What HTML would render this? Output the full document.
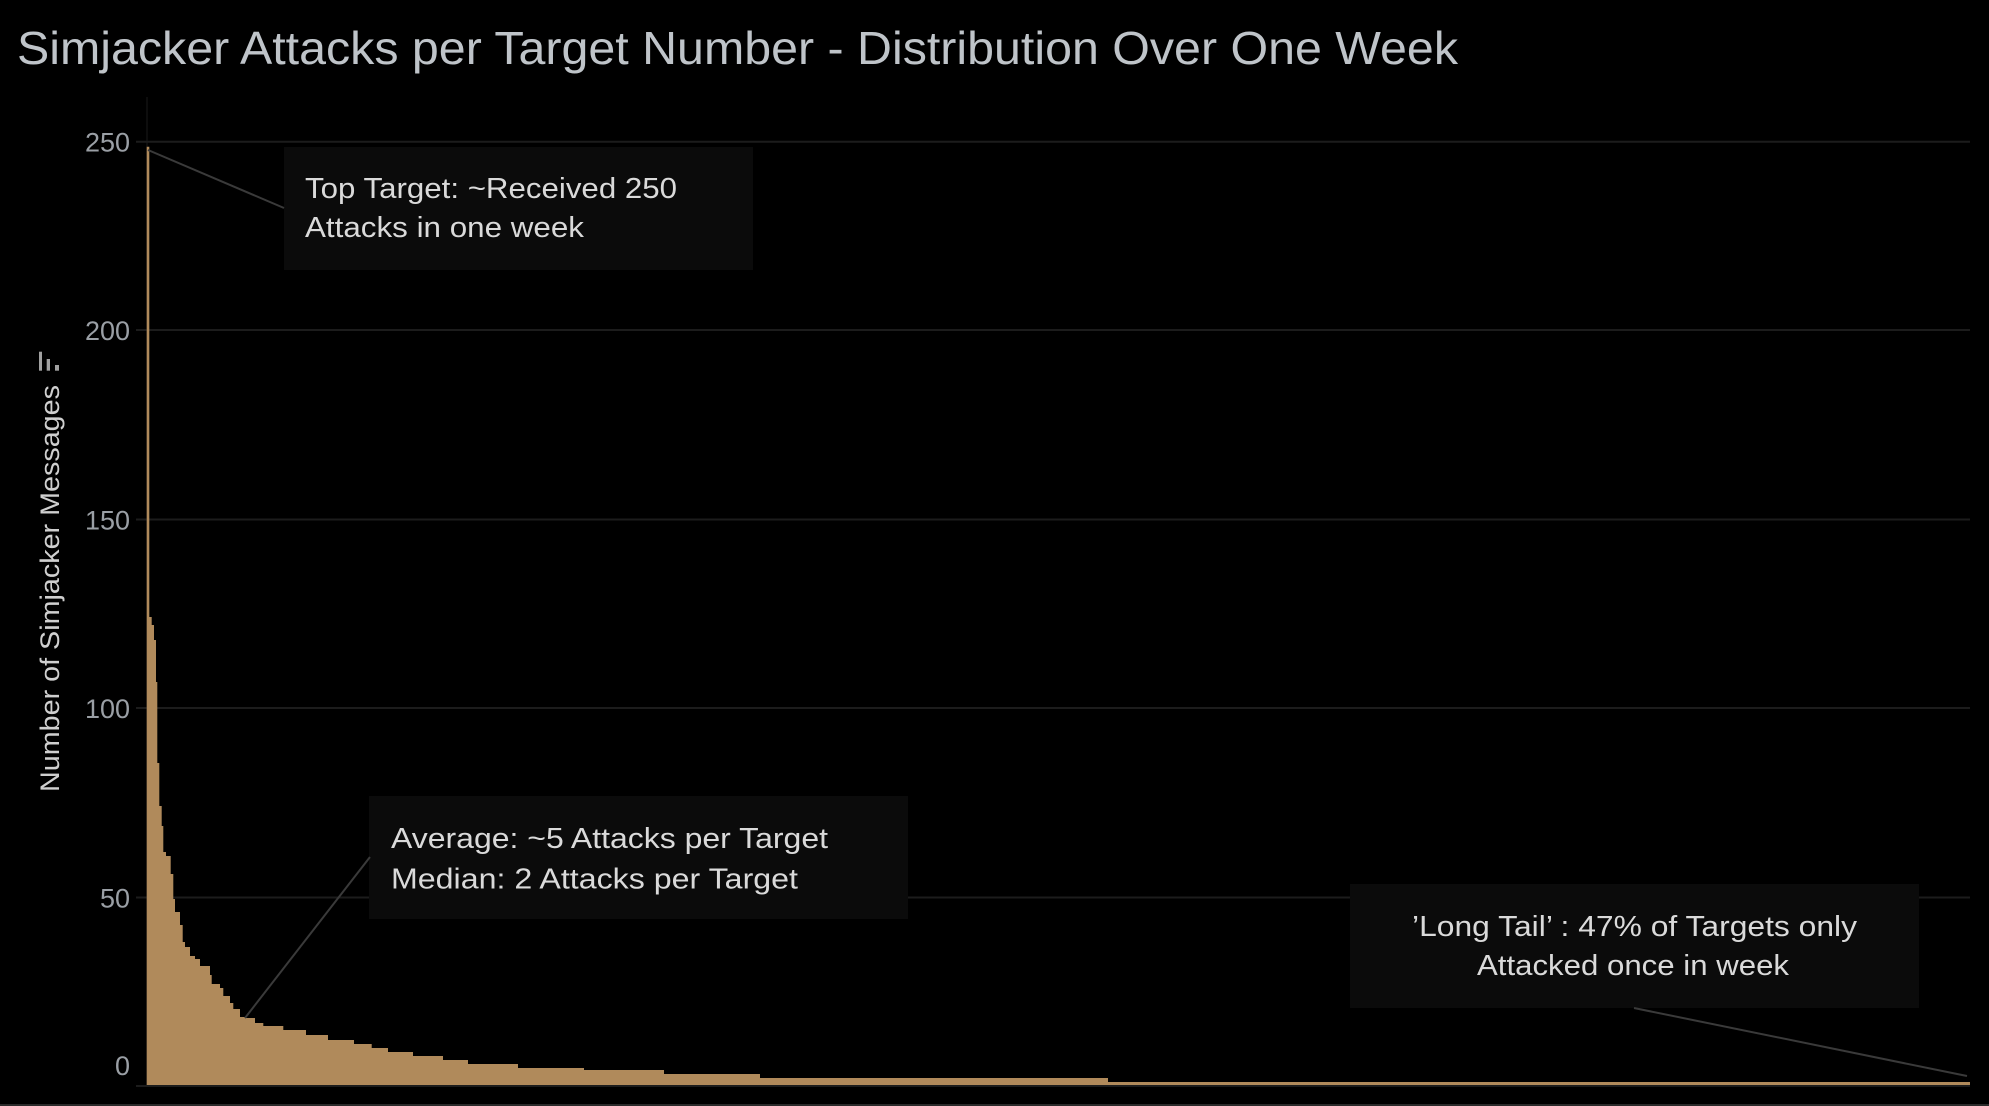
<!DOCTYPE html>
<html>
<head>
<meta charset="utf-8">
<style>
html,body{margin:0;padding:0;background:#000;}
body{width:1989px;height:1106px;overflow:hidden;}
svg{display:block;}
text{font-family:"Liberation Sans","DejaVu Sans",sans-serif;}
</style>
</head>
<body>
<svg width="1989" height="1106" viewBox="0 0 1989 1106" xmlns="http://www.w3.org/2000/svg">
  <rect x="0" y="0" width="1989" height="1106" fill="#000"/>

  <text x="17" y="64" font-size="46" fill="#bfc4c9" textLength="1441" lengthAdjust="spacingAndGlyphs">Simjacker Attacks per Target Number - Distribution Over One Week</text>

  <g stroke="#1c1c1c" stroke-width="2">
    <line x1="136" y1="141.7" x2="1970" y2="141.7"/>
    <line x1="136" y1="330" x2="1970" y2="330"/>
    <line x1="136" y1="519.5" x2="1970" y2="519.5"/>
    <line x1="136" y1="708" x2="1970" y2="708"/>
    <line x1="136" y1="897.5" x2="1970" y2="897.5"/>
    <line x1="136" y1="1086" x2="1970" y2="1086"/>
  </g>
  <line x1="147" y1="97" x2="147" y2="1085" stroke="#1a1a1a" stroke-width="1"/>

  <g font-size="27" fill="#9a9fa5" text-anchor="end">
    <text x="130" y="151.7">250</text>
    <text x="130" y="340">200</text>
    <text x="130" y="529.5">150</text>
    <text x="130" y="718">100</text>
    <text x="130" y="907.5">50</text>
    <text x="130" y="1075">0</text>
  </g>

  <text transform="translate(59,792) rotate(-90)" font-size="27" fill="#cfcfcf" textLength="407" lengthAdjust="spacingAndGlyphs">Number of Simjacker Messages</text>
  <g fill="#a0a0a0">
    <rect x="39" y="351.7" width="3" height="19"/>
    <rect x="46.7" y="359" width="3.3" height="11.7"/>
    <rect x="55" y="365" width="4" height="5.7"/>
  </g>

  <path fill="#b08a5b" d="M146.7,1085 L146.7,146.7 L149.3,146.7 L149.3,617 L151.7,617 L151.7,625 L154,625 L154,640 L156,640 L156,682 L157.3,682 L157.3,763 L159.3,763 L159.3,806 L161.7,806 L161.7,826 L163.3,826 L163.3,852 L166,852 L166,856 L170.7,856 L170.7,874 L173.3,874 L173.3,899 L175,899 L175,912 L180,912 L180,925 L182.7,925 L182.7,942 L185,942 L185,947 L190,947 L190,956 L195,956 L195,959 L200,959 L200,966 L210,966 L210,975 L211.7,975 L211.7,984 L220,984 L220,988 L223.3,988 L223.3,996 L230,996 L230,1003 L233.3,1003 L233.3,1009 L240,1009 L240,1017 L245,1017 L245,1018 L255,1018 L255,1023 L263.3,1023 L263.3,1026 L283.3,1026 L283.3,1030 L306,1030 L306,1035 L328,1035 L328,1040 L354,1040 L354,1044 L371.7,1044 L371.7,1048 L388,1048 L388,1052 L413,1052 L413,1056 L443,1056 L443,1060 L468,1060 L468,1064 L518,1064 L518,1068 L584,1068 L584,1070 L664,1070 L664,1074 L760,1074 L760,1078 L1108,1078 L1108,1082 L1970,1082 L1970,1085 Z"/>

  <rect x="284" y="147" width="469" height="123" fill="#0b0b0b"/>
  <rect x="369" y="796" width="539" height="123" fill="#0b0b0b"/>
  <rect x="1350" y="884" width="569" height="124" fill="#0b0b0b"/>

  <g stroke="#3a3a3a" stroke-width="2">
    <line x1="148" y1="150" x2="284" y2="208"/>
    <line x1="245" y1="1018" x2="370" y2="857"/>
    <line x1="1634" y1="1008" x2="1967" y2="1076"/>
  </g>

  <g font-size="29" fill="#dadada">
    <text x="305" y="198" textLength="372" lengthAdjust="spacingAndGlyphs">Top Target: ~Received 250</text>
    <text x="305" y="237" textLength="279" lengthAdjust="spacingAndGlyphs">Attacks in one week</text>
    <text x="391" y="848" textLength="437" lengthAdjust="spacingAndGlyphs">Average: ~5 Attacks per Target</text>
    <text x="391" y="888.5" textLength="407" lengthAdjust="spacingAndGlyphs">Median: 2 Attacks per Target</text>
    <text x="1412" y="936" textLength="445" lengthAdjust="spacingAndGlyphs">’Long Tail’ : 47% of Targets only</text>
    <text x="1477" y="975" textLength="312" lengthAdjust="spacingAndGlyphs">Attacked once in week</text>
  </g>

  <rect x="0" y="1104" width="1989" height="2" fill="#2a2a2a"/>
</svg>
</body>
</html>
